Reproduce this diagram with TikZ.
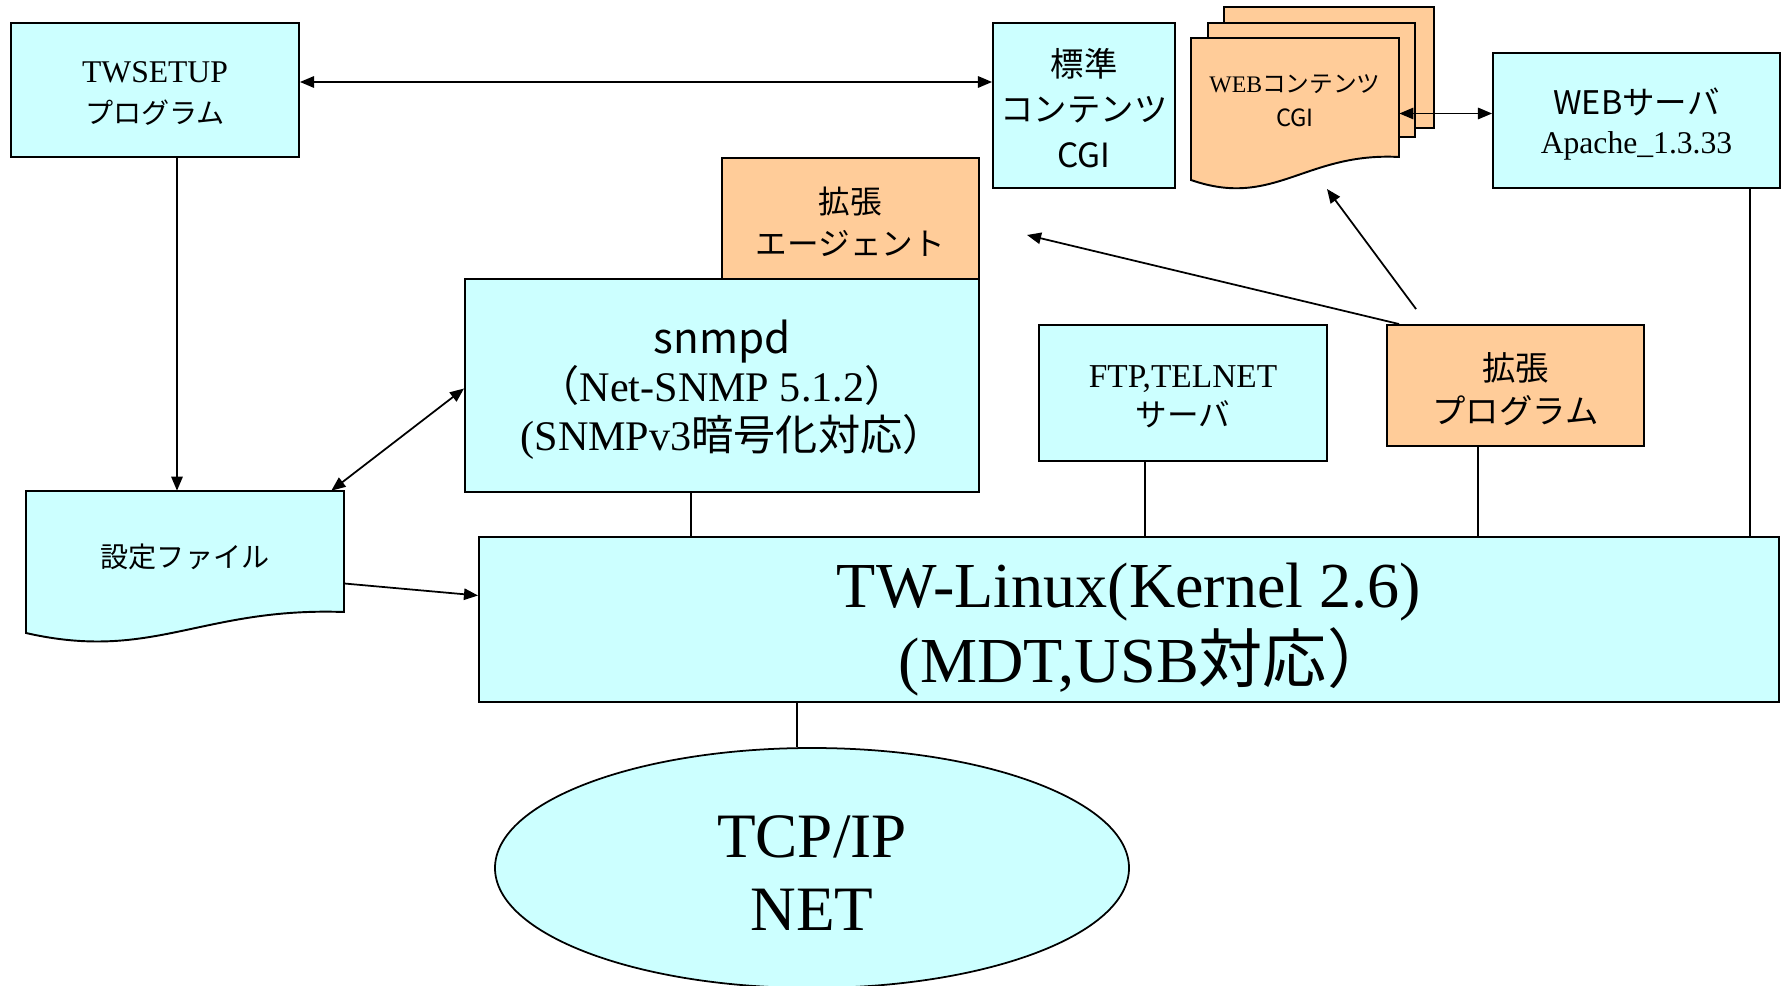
\documentclass[tikz,border=0pt]{standalone}
\usepackage{fontspec}
\setmainfont{Liberation Serif}
\newfontfamily\jpfont{Noto Sans CJK JP}
\usepackage{tikz}
\usetikzlibrary{arrows.meta,shapes.geometric}
\newlength{\dpx}
\setlength{\dpx}{0.02cm}
\newcommand{\lift}[1]{\rule{0pt}{#1}}
\definecolor{boxcyan}{RGB}{204,255,255}
\definecolor{boxorange}{RGB}{255,204,153}
\tikzset{
  cyanbox/.style={draw, line width=1.1pt, fill=boxcyan, align=center, inner sep=1pt},
  orangebox/.style={draw, line width=1.1pt, fill=boxorange, align=center, inner sep=1pt},
  link/.style={line width=0.8pt},
  arr/.style={line width=1pt, -{Triangle[length=8pt,width=6.5pt]}},
  darr/.style={line width=1pt, {Triangle[length=8pt,width=6.5pt]}-{Triangle[length=8pt,width=6.5pt]}}
}

\begin{document}
\begin{tikzpicture}[x=0.02cm, y=-0.02cm]
                \useasboundingbox (0,0) rectangle (1788,986);

                %TWSETUP program
                \node[cyanbox, minimum width=288\dpx, minimum height=134\dpx,
                      font=\fontsize{18}{23}\selectfont] (twsetup) at (155,90)
                      {\lift{16pt}TWSETUP\\{\jpfont\fontsize{16}{23}\selectfont プログラム}};

                %standard contents
                \node[cyanbox, minimum width=182\dpx, minimum height=165\dpx,
                      font=\jpfont\fontsize{19}{26}\selectfont] (std) at (1084,105.5)
                      {\lift{19pt}標準\\コンテンツ\\CGI};

                %WEB contents, three stacked pages
                \filldraw[fill=boxorange, line width=1.1pt] (1224,7) rectangle (1434,128);
                \filldraw[fill=boxorange, line width=1.1pt] (1208,23) rectangle (1415,137);
                \filldraw[fill=boxorange, line width=1.1pt] (1191,38) -- (1399,38) -- (1399,157)
                    .. controls (1305,152) and (1274,209) .. (1191,180) -- cycle;
                \node[align=center, minimum width=208\dpx, minimum height=119\dpx,
                      font=\fontsize{13.5}{19.5}\selectfont] (webcgi) at (1295,97.5)
                      {\lift{13.8pt}WEB{\jpfont コンテンツ}\\{\jpfont CGI}};

                %WEB server
                \node[cyanbox, minimum width=287\dpx, minimum height=135\dpx,
                      font=\fontsize{18}{22}\selectfont] (websrv) at (1636.5,120.5)
                      {\lift{19.2pt}{\jpfont\fontsize{18.5}{22}\selectfont WEBサーバ}\\Apache\_1.3.33};

                %extension agent on top of snmpd
                \node[orangebox, minimum width=257\dpx, minimum height=121\dpx,
                      font=\jpfont\fontsize{18}{24}\selectfont] (agent) at (850.5,218.5)
                      {\lift{18.8pt}拡張\\エージェント};
                \node[cyanbox, minimum width=514\dpx, minimum height=213\dpx,
                      font=\fontsize{24}{27.6}\selectfont] (snmpd) at (722,385.5)
                      {\lift{23.8pt}{\jpfont snmpd}\\{\jpfont （}Net-SNMP 5.1.2{\jpfont ）}\\(SNMPv3{\jpfont 暗号化対応）}\kern-0.5em};

                %FTP / TELNET
                \node[cyanbox, minimum width=288\dpx, minimum height=136\dpx,
                      font=\fontsize{19}{22}\selectfont] (ftp) at (1183,393)
                      {\lift{16.4pt}FTP,TELNET\\{\jpfont\fontsize{18}{22}\selectfont サーバ}};

                %extension program
                \node[orangebox, minimum width=257\dpx, minimum height=121\dpx,
                      font=\jpfont\fontsize{19}{24.5}\selectfont] (extprog) at (1515.5,385.5)
                      {\lift{19.6pt}拡張\\プログラム};

                %config file (document shape)
                \filldraw[fill=boxcyan, line width=1.1pt] (26,491) -- (344,491) -- (344,612)
                    .. controls (201,607) and (153,662) .. (26,633) -- cycle;
                \node[minimum width=318\dpx, minimum height=121\dpx,
                      font=\jpfont\fontsize{16}{20}\selectfont] (conf) at (185,551.5) {\lift{19.7pt}設定ファイル};

                %kernel
                \node[cyanbox, minimum width=1300\dpx, minimum height=165\dpx,
                      font=\fontsize{36.5}{43}\selectfont] (linux) at (1129,619.5)
                      {\lift{37pt}TW-Linux(Kernel 2.6)\\(MDT,USB{\jpfont 対応）}\kern-0.5em};

                %network
                \node[ellipse, draw, line width=1pt, fill=boxcyan, align=center,
                      minimum width=634\dpx, minimum height=240\dpx,
                      font=\fontsize{36}{42}\selectfont] (net) at (812,868) {\lift{29.6pt}TCP/IP\\NET};

                %arrows
                \draw[darr] ([yshift=8\dpx]twsetup.east) -- ([yshift=8\dpx]twsetup.east -| std.west);
                \draw[arr] ([xshift=22\dpx]twsetup.south) -- ([xshift=22\dpx]twsetup.south |- conf.north);
                \draw[darr] ([xshift=-13\dpx]conf.north east) -- ([yshift=-3\dpx]snmpd.west);
                \draw[arr] ([yshift=-32\dpx]conf.east) -- ([yshift=24\dpx]linux.west);
                \draw[darr] ([yshift=-16\dpx]webcgi.east) -- ([yshift=-16\dpx]webcgi.east -| websrv.west);

                \coordinate (agenttip) at (1027,235);
                \coordinate (cgitip) at (1327,189);
                \draw[arr] ([xshift=13\dpx]extprog.north west) -- (agenttip);
                \draw[arr] ([xshift=30\dpx,yshift=15\dpx]extprog.north west) -- (cgitip);

                %links down to the kernel
                \foreach \src/\dx in {snmpd/-31, ftp/-38, extprog/-37.5, websrv/113.5}
                    \draw[link] ([xshift=\dx\dpx]\src.south) -- ([xshift=\dx\dpx]\src.south |- linux.north);
                \draw[link] ([xshift=-15\dpx]net.north) -- ([xshift=-15\dpx]net.north |- linux.south);
\end{tikzpicture}
\end{document}
